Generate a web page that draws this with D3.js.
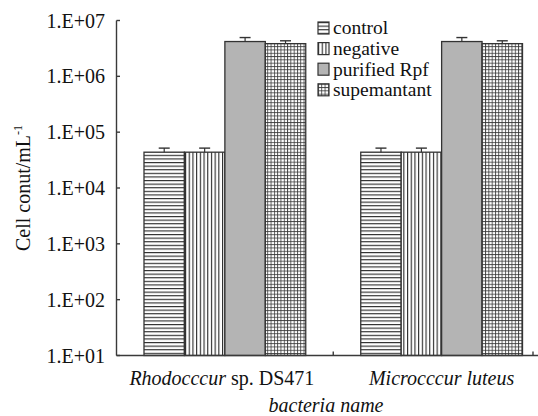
<!DOCTYPE html>
<html><head><meta charset="utf-8">
<script src="https://cdn.jsdelivr.net/npm/d3@7"></script>
<style>
html,body{margin:0;padding:0;background:#fff;}
svg{display:block;font-family:"Liberation Serif","Times New Roman",serif;}
</style></head>
<body>
<svg id="chart" width="538" height="416"></svg>
<script>
const categories = ["Rhodocccur sp. DS471", "Microcccur luteus"];
const categoryItalic = [["Rhodocccur", " sp. DS471"], ["Microcccur luteus", ""]];
const seriesNames = ["control", "negative", "purified Rpf", "supemantant"];
const control = [43800, 43800];
const negative = [43800, 43800];
const purified = [4.2e6, 4.2e6];
const supernatant = [3.85e6, 3.85e6];
const errControl = [8000, 8000];
const errNegative = [8000, 8000];
const errPurified = [750000, 750000];
const errSupernatant = [480000, 480000];
const yTickValues = [1e1, 1e2, 1e3, 1e4, 1e5, 1e6, 1e7];
const yTickLabels = ["1.E+01", "1.E+02", "1.E+03", "1.E+04", "1.E+05", "1.E+06", "1.E+07"];

const values = [control, negative, purified, supernatant];
const errors = [errControl, errNegative, errPurified, errSupernatant];
const fills = ["url(#pH)", "url(#pV)", "#b4b4b4", "url(#pG)"];

const W = 538, H = 416;
const FS = 20;
const svg = d3.select("#chart");
const defs = svg.append("defs");

// patterns
const pH = defs.append("pattern").attr("id", "pH").attr("patternUnits", "userSpaceOnUse").attr("width", 8).attr("height", 3.6);
pH.append("rect").attr("width", 8).attr("height", 3.6).attr("fill", "#fff");
pH.append("line").attr("x1", 0).attr("x2", 8).attr("y1", 0.6).attr("y2", 0.6).attr("stroke", "#111").attr("stroke-width", 1);
const pV = defs.append("pattern").attr("id", "pV").attr("patternUnits", "userSpaceOnUse").attr("width", 3.7).attr("height", 8);
pV.append("rect").attr("width", 3.7).attr("height", 8).attr("fill", "#fff");
pV.append("line").attr("y1", 0).attr("y2", 8).attr("x1", 0.6).attr("x2", 0.6).attr("stroke", "#111").attr("stroke-width", 1);
const pG = defs.append("pattern").attr("id", "pG").attr("patternUnits", "userSpaceOnUse").attr("width", 3.3).attr("height", 3.3);
pG.append("rect").attr("width", 3.3).attr("height", 3.3).attr("fill", "#fff");
pG.append("line").attr("x1", 0).attr("x2", 3.3).attr("y1", 0.5).attr("y2", 0.5).attr("stroke", "#333").attr("stroke-width", 0.8);
pG.append("line").attr("y1", 0).attr("y2", 3.3).attr("x1", 0.5).attr("x2", 0.5).attr("stroke", "#333").attr("stroke-width", 0.8);

const axisX0 = 116.5, axisY0 = 355.5;
const y = d3.scaleLog().domain([10, 1e7]).range([axisY0, 20.5]);
const x0 = d3.scaleBand().domain(categories).range([axisX0, 550]).paddingInner(0).paddingOuter(0);
const x1 = d3.scaleBand().domain(seriesNames).range([0, x0.bandwidth()]).paddingInner(0).paddingOuter(0.68);

const axisColor = "#3a3a3a";

// bars
categories.forEach((c, ci) => {
  seriesNames.forEach((s, si) => {
    const v = values[si][ci];
    const bx = x0(c) + x1(s);
    svg.append("rect")
      .attr("x", bx).attr("y", y(v))
      .attr("width", x1.bandwidth()).attr("height", y(10) - y(v))
      .attr("fill", fills[si]).attr("stroke", "#333").attr("stroke-width", 1.3);
    const e = errors[si][ci];
    const cx = bx + x1.bandwidth() / 2;
    svg.append("line").attr("x1", cx).attr("x2", cx).attr("y1", y(v)).attr("y2", y(v + e))
      .attr("stroke", "#333").attr("stroke-width", 1.2);
    svg.append("line").attr("x1", cx - 5.5).attr("x2", cx + 5.5).attr("y1", y(v + e)).attr("y2", y(v + e))
      .attr("stroke", "#333").attr("stroke-width", 1.4);
  });
});

// y axis
svg.append("line").attr("x1", axisX0).attr("x2", axisX0).attr("y1", y(1e7)).attr("y2", axisY0)
  .attr("stroke", axisColor).attr("stroke-width", 1.4);
yTickValues.forEach((t, i) => {
  svg.append("line").attr("x1", axisX0).attr("x2", axisX0 + 3.5).attr("y1", y(t)).attr("y2", y(t))
    .attr("stroke", axisColor).attr("stroke-width", 1.4);
  svg.append("text").attr("x", 105).attr("y", y(t)).attr("dy", "0.35em")
    .attr("text-anchor", "end").attr("font-size", FS).attr("fill", "#111").text(yTickLabels[i]);
});

// x axis
svg.append("line").attr("x1", axisX0).attr("x2", W).attr("y1", axisY0).attr("y2", axisY0)
  .attr("stroke", axisColor).attr("stroke-width", 1.4);
const xTicks = [x0(categories[1]), Math.min(x0.range()[1], W - 5)];
xTicks.forEach(t => {
  svg.append("line").attr("x1", t).attr("x2", t).attr("y1", axisY0).attr("y2", axisY0 - 4)
    .attr("stroke", axisColor).attr("stroke-width", 1.4);
});

// category labels
categories.forEach((c, ci) => {
  const t = svg.append("text").attr("x", x0(c) + x0.bandwidth() / 2 - (ci === 1 ? 0 : 3)).attr("y", 385)
    .attr("text-anchor", "middle").attr("font-size", FS).attr("fill", "#111");
  t.append("tspan").attr("font-style", "italic").text(categoryItalic[ci][0]);
  if (categoryItalic[ci][1]) t.append("tspan").text(categoryItalic[ci][1]);
});

// x axis title
svg.append("text").attr("x", 326).attr("y", 412).attr("text-anchor", "middle")
  .attr("font-size", FS).attr("font-style", "italic").attr("fill", "#111").text("bacteria name");

// y axis title
const yt = svg.append("text").attr("transform", "translate(30,188) rotate(-90)")
  .attr("text-anchor", "middle").attr("font-size", FS).attr("fill", "#111");
yt.append("tspan").text("Cell conut/mL");
yt.append("tspan").attr("font-size", 12).attr("dy", -8).text("-1");

// legend
const legend = svg.append("g").attr("transform", "translate(318,22)");
seriesNames.forEach((s, i) => {
  const g = legend.append("g").attr("transform", `translate(0,${i * 20.6})`);
  g.append("rect").attr("x", 0).attr("y", 0).attr("width", 11).attr("height", 12)
    .attr("fill", fills[i]).attr("stroke", "#333").attr("stroke-width", 1.2);
  g.append("text").attr("x", 15).attr("y", 6).attr("dy", "0.33em")
    .attr("font-size", 19.5).attr("fill", "#111").text(s);
});
</script>
</body></html>
